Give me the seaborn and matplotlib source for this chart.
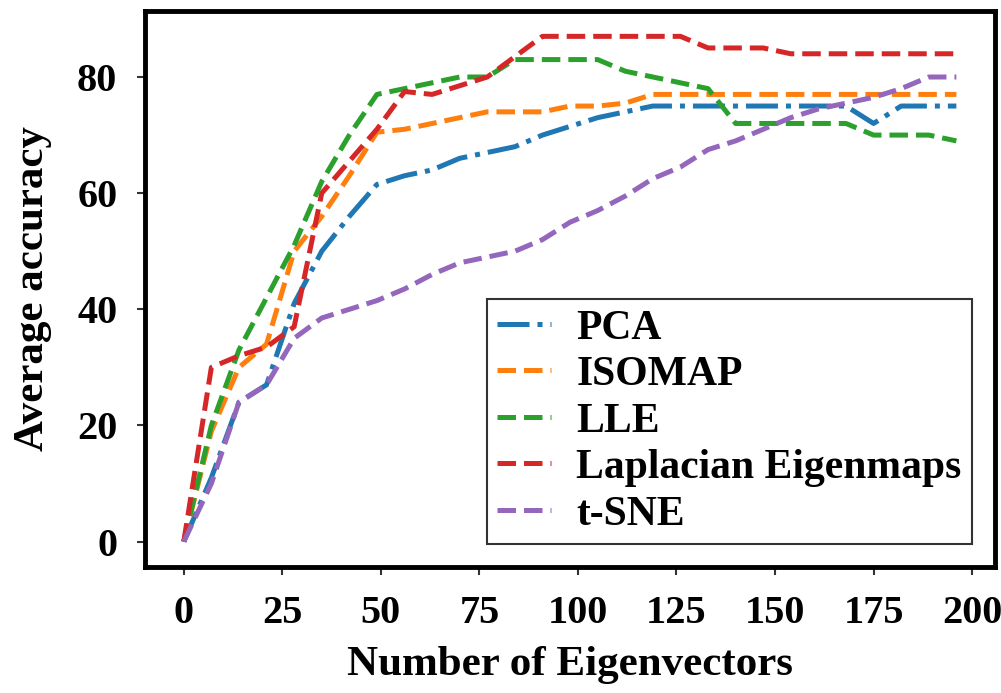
import matplotlib
matplotlib.use("Agg")
import matplotlib.pyplot as plt
import seaborn as sns
import pandas as pd

eigenvectors = [0, 7, 14, 21, 28, 35, 42, 49, 56, 63, 70, 77, 84, 91, 98, 105,
                112, 119, 126, 133, 140, 147, 154, 161, 168, 175, 182, 189, 196]
pca = [0, 11, 24, 27, 41, 50, 56, 61.5, 63, 64, 66, 67, 68, 70, 71.5, 73, 74, 75,
       75, 75, 75, 75, 75, 75, 75, 72, 75, 75, 75]
isomap = [0, 19, 30, 34, 50, 56, 63, 70.5, 71, 72, 73, 74, 74, 74, 75, 75, 75.5, 77,
          77, 77, 77, 77, 77, 77, 77, 77, 77, 77, 77]
lle = [0, 20, 33, 42, 51, 62, 70, 77, 78, 79, 80, 80, 83, 83, 83, 83, 81, 80,
       79, 78, 72, 72, 72, 72, 72, 70, 70, 70, 69]
laplacian = [0, 30, 32, 33.5, 37, 60, 65.5, 71, 77.5, 77, 78.5, 80, 83.5, 87, 87, 87,
             87, 87, 87, 85, 85, 85, 84, 84, 84, 84, 84, 84, 84]
tsne = [0, 10, 24, 27, 35, 38.5, 40, 41.5, 43.5, 46, 48, 49, 50, 52, 55, 57, 59.5,
        62.5, 64.5, 67.5, 69, 71, 73, 74.5, 75.5, 76.5, 78, 80, 80]

series_names = ["PCA", "ISOMAP", "LLE", "Laplacian Eigenmaps", "t-SNE"]
series_values = [pca, isomap, lle, laplacian, tsne]
series_styles = ["-.", "--", "--", "--", "--"]
colors = ["#1f77b4", "#ff7f0e", "#2ca02c", "#d62728", "#9467bd"]
xticks = [0, 25, 50, 75, 100, 125, 150, 175, 200]
yticks = [0, 20, 40, 60, 80]

sns.set_style("white")
plt.rcParams["font.family"] = ["Liberation Serif", "DejaVu Serif"]
plt.rcParams["font.weight"] = "bold"
plt.rcParams["text.color"] = "black"
plt.rcParams["axes.labelcolor"] = "black"
plt.rcParams["xtick.color"] = "black"
plt.rcParams["ytick.color"] = "black"

fig = plt.figure(figsize=(10.01, 6.93), dpi=100)
ax = fig.add_axes([0.145, 0.182, 0.849, 0.802])

for name, vals, ls, c in zip(series_names, series_values, series_styles, colors):
    df = pd.DataFrame({"x": eigenvectors, "y": vals})
    sns.lineplot(data=df, x="x", y="y", ax=ax, color=c, linestyle=ls,
                 linewidth=3.6, label=name)

ax.set_xticks(xticks)
ax.set_yticks(yticks)
ax.tick_params(axis="both", which="major", labelsize=29, length=6, width=1.5,
               direction="out", pad=14, color="#333333", labelcolor="black",
               left=True, bottom=True)
for lab in ax.get_xticklabels() + ax.get_yticklabels():
    lab.set_fontweight("bold")

ax.set_xlabel("Number of Eigenvectors", fontsize=31, fontweight="bold",
              labelpad=10, color="black")
ax.set_ylabel("Average accuracy", fontsize=31, fontweight="bold",
              labelpad=18, color="black")

for sp in ax.spines.values():
    sp.set_visible(True)
    sp.set_linewidth(3.5)
    sp.set_color("black")

leg = ax.legend(loc="lower right", fontsize=30, frameon=True, fancybox=False,
                handlelength=1.3, handletextpad=0.6, labelspacing=0.2,
                borderpad=0.25, borderaxespad=0.55)
leg.get_frame().set_edgecolor("black")
leg.get_frame().set_linewidth(1.5)
for t in leg.get_texts():
    t.set_fontweight("bold")
    t.set_color("black")

fig.savefig("out.png", dpi=100)
